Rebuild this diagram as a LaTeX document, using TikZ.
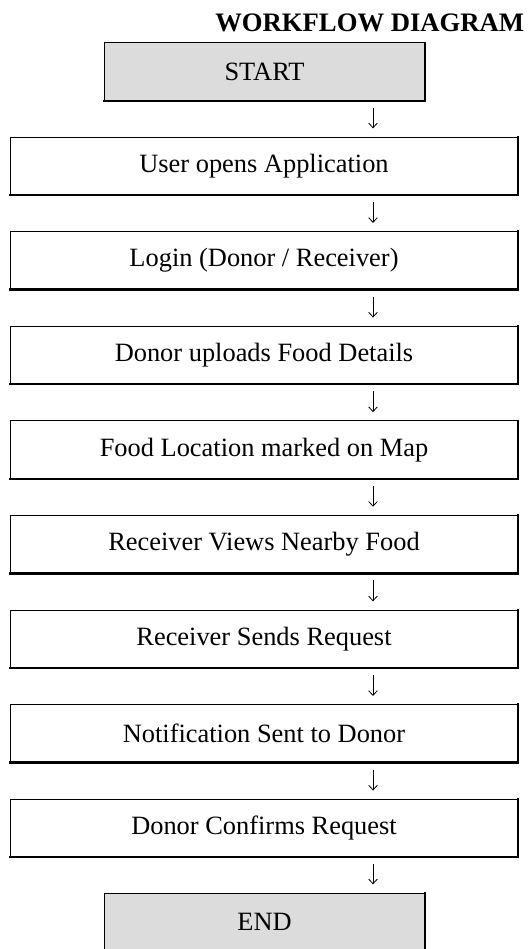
\documentclass[tikz,border=0pt]{standalone}
\usepackage{fontspec}
\setmainfont{Liberation Serif}
\usetikzlibrary{arrows.meta}
\definecolor{termfill}{RGB}{220,220,220}
\begin{document}
\begin{tikzpicture}[x=0.75pt,y=-0.75pt,
  stepbox/.style={draw=black, line width=0.75pt, minimum width=381pt,
    minimum height=43.5pt, inner sep=0pt, outer sep=0pt,
    font=\fontsize{19.8}{24}\selectfont},
  termbox/.style={stepbox, fill=termfill, minimum width=240.75pt},
  heavyedge/.style={line width=1.9pt, line cap=rect},
  flow/.style={line width=0.6pt, -{Straight Barb[length=3.5pt,width=6.5pt]},
    shorten <=5.25pt, shorten >=6.5pt}
]
\useasboundingbox (0,0) rectangle (529,949);

% heading
\node[anchor=base west, inner sep=0pt, font=\fontsize{20}{24}\selectfont\bfseries]
  (title) at (215,32) {WORKFLOW DIAGRAM};

% terminals and process steps
\node[termbox] (s0) at (264.5,72) {START};
\node[stepbox] (b1) at (264,166)   {User opens Application};
\node[stepbox] (b2) at (264,260.6) {Login (Donor / Receiver)};
\node[stepbox] (b3) at (264,355.2) {Donor uploads Food Details};
\node[stepbox] (b4) at (264,449.8) {Food Location marked on Map};
\node[stepbox] (b5) at (264,544.4) {Receiver Views Nearby Food};
\node[stepbox] (b6) at (264,639)   {Receiver Sends Request};
\node[stepbox] (b7) at (264,733.6) {Notification Sent to Donor};
\node[stepbox] (b8) at (264,828.2) {Donor Confirms Request};
\node[termbox] (s9) at (264.5,922) {END};

% heavier right and bottom edges
\foreach \n in {s0,b1,b2,b3,b4,b5,b6,b7,b8,s9}
  \draw[heavyedge] (\n.north east) -- (\n.south east) -- (\n.south west);

% downward arrows, offset to the right of the centre line
\coordinate (ax) at (373,0);
\foreach \a/\b in {s0/b1,b1/b2,b2/b3,b3/b4,b4/b5,b5/b6,b6/b7,b7/b8,b8/s9}
  \draw[flow] (\a.south -| ax) -- (\b.north -| ax);
\end{tikzpicture}
\end{document}
